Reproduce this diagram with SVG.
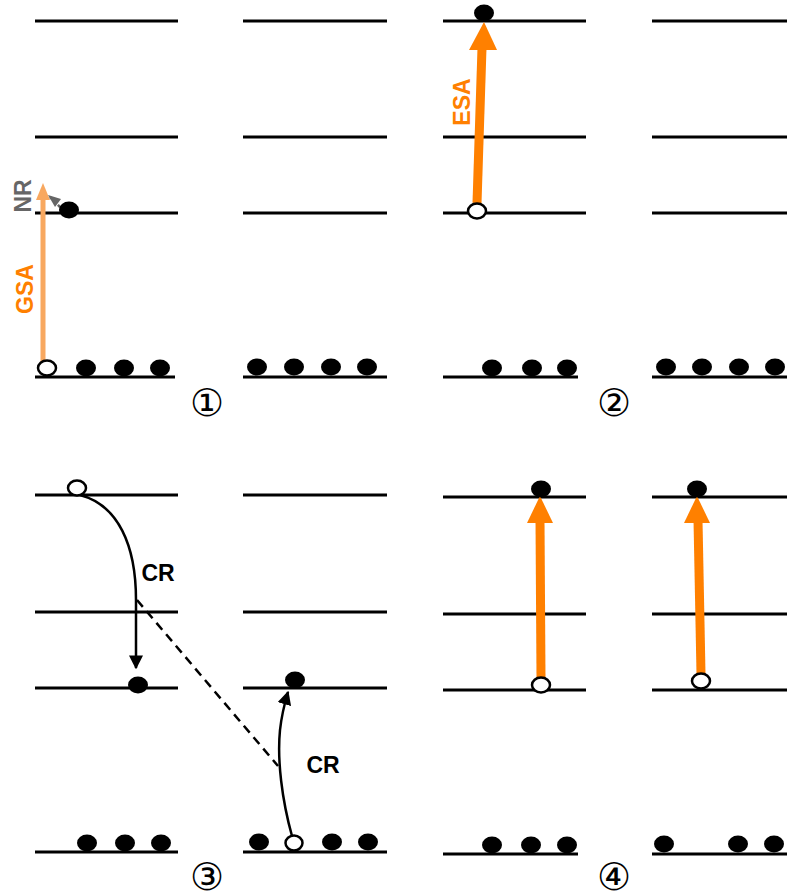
<svg xmlns="http://www.w3.org/2000/svg" width="787" height="894" viewBox="0 0 787 894">
<style>
.lv{stroke:#000;stroke-width:3;fill:none}
.f{fill:#000}
.o{fill:#fff;stroke:#000;stroke-width:2.5}
.lbl{font-family:"Liberation Sans",Arial,sans-serif;font-weight:bold;font-size:23px}
.num{font-family:"DejaVu Sans",sans-serif;font-size:38px;fill:#000}
.cr{stroke:#000;stroke-width:2.5;fill:none}
</style>
<defs>
<marker id="blk" viewBox="0 0 10 10" refX="9" refY="5" markerWidth="14" markerHeight="14" orient="auto" markerUnits="userSpaceOnUse">
<path d="M0,0 L10,5 L0,10 z" fill="#000"/>
</marker>
</defs>

<g id="levels">
<line class="lv" x1="35" y1="21" x2="178" y2="21"/>
<line class="lv" x1="35" y1="137" x2="178" y2="137"/>
<line class="lv" x1="35" y1="213" x2="178" y2="213"/>
<line class="lv" x1="35" y1="377" x2="175" y2="377"/>
<line class="lv" x1="243" y1="21" x2="387" y2="21"/>
<line class="lv" x1="243" y1="137" x2="387" y2="137"/>
<line class="lv" x1="243" y1="213" x2="387" y2="213"/>
<line class="lv" x1="243" y1="377" x2="387" y2="377"/>
<line class="lv" x1="443" y1="21" x2="586" y2="21"/>
<line class="lv" x1="443" y1="137" x2="586" y2="137"/>
<line class="lv" x1="443" y1="213" x2="586" y2="213"/>
<line class="lv" x1="443" y1="377" x2="578" y2="377"/>
<line class="lv" x1="652" y1="21" x2="787" y2="21"/>
<line class="lv" x1="652" y1="137" x2="787" y2="137"/>
<line class="lv" x1="652" y1="213" x2="787" y2="213"/>
<line class="lv" x1="652" y1="377" x2="787" y2="377"/>

<line class="lv" x1="35" y1="495" x2="178" y2="495"/>
<line class="lv" x1="35" y1="612" x2="178" y2="612"/>
<line class="lv" x1="35" y1="688" x2="178" y2="688"/>
<line class="lv" x1="35" y1="852" x2="178" y2="852"/>
<line class="lv" x1="243" y1="495" x2="387" y2="495"/>
<line class="lv" x1="243" y1="612" x2="387" y2="612"/>
<line class="lv" x1="243" y1="688" x2="387" y2="688"/>
<line class="lv" x1="243" y1="852" x2="387" y2="852"/>
<line class="lv" x1="443" y1="497" x2="586" y2="497"/>
<line class="lv" x1="443" y1="614" x2="586" y2="614"/>
<line class="lv" x1="443" y1="690" x2="586" y2="690"/>
<line class="lv" x1="443" y1="854" x2="578" y2="854"/>
<line class="lv" x1="652" y1="497" x2="787" y2="497"/>
<line class="lv" x1="652" y1="614" x2="787" y2="614"/>
<line class="lv" x1="652" y1="690" x2="787" y2="690"/>
<line class="lv" x1="652" y1="854" x2="787" y2="854"/>
</g>

<g id="connectors">
<line x1="43" y1="362" x2="43" y2="198" stroke="#f8a860" stroke-width="5"/>
<path d="M36,200 L43,183 L50,200 z" fill="#f8a860"/>
<line x1="60" y1="207" x2="50" y2="197" stroke="#666" stroke-width="2.5" stroke-dasharray="3,3"/>
<path d="M55,207 L48,195 L61,199 z" fill="#666"/>
<line x1="477" y1="203" x2="482" y2="48" stroke="#ff8000" stroke-width="9"/>
<path d="M469,50 L484,22 L497,50 z" fill="#ff8000"/>
<line x1="541" y1="678" x2="540" y2="520" stroke="#ff8000" stroke-width="9"/>
<path d="M527,523 L540,496 L553,523 z" fill="#ff8000"/>
<line x1="701" y1="674" x2="698" y2="520" stroke="#ff8000" stroke-width="9"/>
<path d="M684,523 L697,496 L710,523 z" fill="#ff8000"/>
<path class="cr" d="M80,495 C118,505 136,545 136,600 L136,668" marker-end="url(#blk)"/>
<line x1="137" y1="600" x2="278" y2="766" stroke="#000" stroke-width="2.5" stroke-dasharray="9,6"/>
<path class="cr" d="M292,836 C282,800 277,760 280,730 C282,712 285,702 288,692" marker-end="url(#blk)"/>
</g>

<g id="labels">
<text class="lbl" fill="#ff8000" transform="translate(33,289) rotate(-90)" text-anchor="middle">GSA</text>
<text class="lbl" fill="#666" transform="translate(31,196) rotate(-90)" text-anchor="middle">NR</text>
<text class="lbl" fill="#ff8000" transform="translate(470,102) rotate(-90)" text-anchor="middle">ESA</text>
<text class="lbl" fill="#000" x="158" y="581" text-anchor="middle">CR</text>
<text class="lbl" fill="#000" x="323" y="773" text-anchor="middle">CR</text>
<text class="num" x="207" y="416" text-anchor="middle">①</text>
<text class="num" x="614" y="416" text-anchor="middle">②</text>
<text class="num" x="207" y="890" text-anchor="middle">③</text>
<text class="num" x="614" y="890" text-anchor="middle">④</text>
</g>

<g id="electrons">
<ellipse class="o" cx="47" cy="368" rx="9" ry="7.5"/>
<ellipse class="f" cx="86" cy="368" rx="10" ry="8.5"/>
<ellipse class="f" cx="124" cy="368" rx="10" ry="8.5"/>
<ellipse class="f" cx="160" cy="368" rx="10" ry="8.5"/>
<ellipse class="f" cx="69" cy="210" rx="10" ry="8.5"/>

<ellipse class="f" cx="257" cy="367" rx="10" ry="8.5"/>
<ellipse class="f" cx="294" cy="367" rx="10" ry="8.5"/>
<ellipse class="f" cx="331" cy="367" rx="10" ry="8.5"/>
<ellipse class="f" cx="367" cy="367" rx="10" ry="8.5"/>

<ellipse class="f" cx="492" cy="368" rx="10" ry="8.5"/>
<ellipse class="f" cx="532" cy="368" rx="10" ry="8.5"/>
<ellipse class="f" cx="567" cy="368" rx="10" ry="8.5"/>
<ellipse class="o" cx="477" cy="211" rx="9" ry="7.5"/>
<ellipse class="f" cx="484" cy="13" rx="10" ry="8.5"/>

<ellipse class="f" cx="666" cy="367" rx="10" ry="8.5"/>
<ellipse class="f" cx="702" cy="367" rx="10" ry="8.5"/>
<ellipse class="f" cx="739" cy="367" rx="10" ry="8.5"/>
<ellipse class="f" cx="775" cy="367" rx="10" ry="8.5"/>

<ellipse class="o" cx="77" cy="488" rx="9" ry="7.5"/>
<ellipse class="f" cx="138" cy="685" rx="10" ry="8.5"/>
<ellipse class="f" cx="87" cy="843" rx="10" ry="8.5"/>
<ellipse class="f" cx="125" cy="843" rx="10" ry="8.5"/>
<ellipse class="f" cx="161" cy="843" rx="10" ry="8.5"/>

<ellipse class="f" cx="295" cy="680" rx="10" ry="8.5"/>
<ellipse class="f" cx="259" cy="842" rx="10" ry="8.5"/>
<ellipse class="o" cx="294" cy="843" rx="8.5" ry="7.5"/>
<ellipse class="f" cx="332" cy="842" rx="10" ry="8.5"/>
<ellipse class="f" cx="368" cy="842" rx="10" ry="8.5"/>

<ellipse class="f" cx="541" cy="489" rx="10" ry="8.5"/>
<ellipse class="o" cx="541" cy="685" rx="9" ry="7.5"/>
<ellipse class="f" cx="492" cy="845" rx="10" ry="8.5"/>
<ellipse class="f" cx="531" cy="845" rx="10" ry="8.5"/>
<ellipse class="f" cx="567" cy="845" rx="10" ry="8.5"/>

<ellipse class="f" cx="697" cy="489" rx="10" ry="8.5"/>
<ellipse class="o" cx="701" cy="681" rx="9" ry="7.5"/>
<ellipse class="f" cx="664" cy="844" rx="10" ry="8.5"/>
<ellipse class="f" cx="738" cy="844" rx="10" ry="8.5"/>
<ellipse class="f" cx="774" cy="844" rx="10" ry="8.5"/>
</g>
</svg>
